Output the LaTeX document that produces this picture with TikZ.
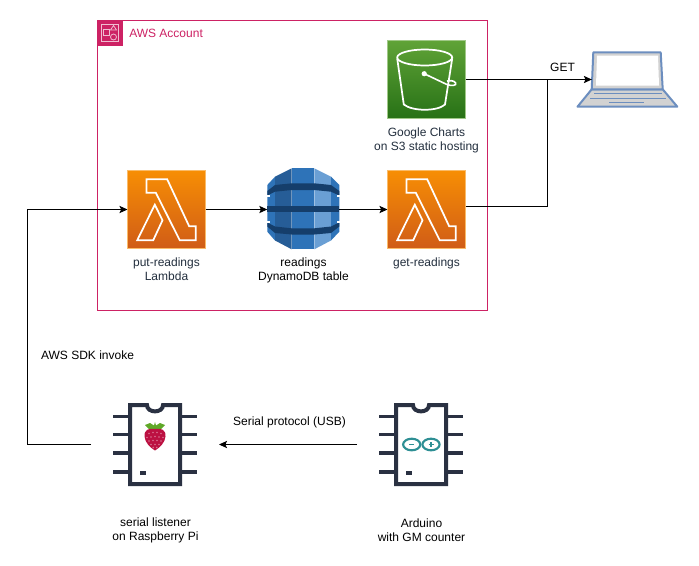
\documentclass[tikz,border=0pt]{standalone}
\usepackage{fontspec}
\setmainfont{Liberation Sans}
\usetikzlibrary{arrows.meta}
\definecolor{awspink}{HTML}{CD2264}
\definecolor{chipc}{HTML}{2A3142}
\definecolor{lapc}{HTML}{6C8EBF}
\definecolor{lablc}{HTML}{232F3E}
\definecolor{ddbmid}{HTML}{2E73B8}
\definecolor{ddbdark}{HTML}{265D97}
\definecolor{ddblight}{HTML}{6A9FD4}
\definecolor{ddbband}{HTML}{153E6B}
\definecolor{rasp}{HTML}{BC1142}
\definecolor{leaf}{HTML}{5FA828}
\definecolor{ardu}{HTML}{2E8F94}
\definecolor{s3top}{HTML}{60A337}
\definecolor{s3bot}{HTML}{277116}
\definecolor{lamtop}{HTML}{F78E04}
\definecolor{lambot}{HTML}{D05C17}
\tikzset{
  x=0.75pt,y=-0.75pt,
  conn/.style={draw=black,line width=0.75pt,-{Stealth[length=6pt,width=5.4pt,inset=1.2pt]}},
  plain/.style={draw=black,line width=0.75pt},
  lbl/.style={font=\fontsize{9}{10.5}\selectfont,text=black,align=center,inner sep=0pt},
  sublbl/.style={lbl,text=lablc},
  lambdabox/.style={minimum size=58.5pt,inner sep=0pt,outer sep=0pt,draw=lamtop!60!white,line width=0.4pt,top color=lamtop,bottom color=lambot},
  sthree/.style={minimum size=58.5pt,inner sep=0pt,outer sep=0pt,draw=s3top!60!white,line width=0.4pt,top color=s3top,bottom color=s3bot},
  glyph/.style={draw=white,line width=1.3pt,line join=miter},
  iconnode/.style={inner sep=0pt,outer sep=0pt},
  chipnode/.style={inner sep=0pt,outer sep=0pt,minimum width=96pt,minimum height=96pt},
  chipline/.style={draw=chipc,line width=3pt},
}
\newcommand{\lambdaglyph}[1]{%
  \begin{scope}[shift={(#1)}]
    \draw[glyph] (-20,-30.2) -- (0.7,-30.2) -- (22.7,16.8) -- (29.3,16.8) -- (29.3,30.8) -- (13.3,30.8) -- (-10.7,-16.8) -- (-20,-16.8) -- cycle;
    \draw[glyph] (-29.3,30.8) -- (-11.7,-4.8) -- (-4,10.8) -- (-13.3,30.8) -- cycle;
  \end{scope}}
\newcommand{\chipglyph}[1]{%
  \begin{scope}[shift={(#1)}]
    \foreach \yy in {-28,-10,8.7,27.3}{
      \draw[chipline,line width=2.8pt] (-42,\yy) -- (-25,\yy);
      \draw[chipline,line width=2.8pt] (25,\yy) -- (42,\yy);
    }
    \draw[chipline,fill=white] (-25,-39.5) -- (-8,-39.5) .. controls (-8,-31) and (8,-31) .. (8,-39.5) -- (25,-39.5) -- (25,39.5) -- (-25,39.5) -- cycle;
    \fill[chipc] (-15,26) rectangle (-9,30.5);
  \end{scope}}
\begin{document}
\begin{tikzpicture}
\useasboundingbox[fill=white] (0,0) rectangle (699,565);

% account group
\draw[awspink,line width=0.75pt] (97.5,20.5) rectangle (487.5,310.5);
\fill[awspink] (97,20) rectangle (123,46);
\draw[white!70!awspink,line width=0.6pt] (103.5,29.5) rectangle (109.5,35.5);
\draw[white!70!awspink,line width=0.6pt] (110.5,30) -- (113.5,25.5) -- (116.5,30) -- cycle;
\draw[white!70!awspink,line width=0.6pt] (113.5,37) circle[radius=3];
\draw[white!70!awspink,line width=0.6pt] (101.5,24.5) -- (101.5,41.5) -- (118.5,41.5) -- (118.5,24.5) -- cycle;
\node[lbl,text=awspink,anchor=west] (acct) at (129,33.5) {AWS Account};

% icon nodes
\node[lambdabox] (putL) at (166.5,209.5) {};
\node[lambdabox] (getL) at (426.5,209.5) {};
\node[sthree] (sthreeN) at (426.5,79.5) {};
\node[iconnode,minimum width=54pt,minimum height=60.75pt] (ddb) at (303.3,209.5) {};
\node[iconnode,minimum width=64pt,minimum height=42pt] (laptop) at (634.5,79.5) {};
\node[chipnode] (pi) at (155,444.5) {};
\node[chipnode] (ard) at (421,444.5) {};
\lambdaglyph{putL}
\lambdaglyph{getL}

% s3 bucket
\begin{scope}[shift={(sthreeN)}]
  \draw[glyph] (-29.3,-21) -- (-22.7,25) .. controls (-14,32) and (11,32) .. (18.5,25) -- (25.7,-21);
  \draw[glyph] (-1.8,-22) ellipse[x radius=27.5,y radius=8];
  \fill[white] (-2.3,-5.8) circle[radius=2.6];
  \draw[white,line width=1.2pt] (-2.3,-5.8) -- (20,4.8) .. controls (25,7) and (31,6) .. (29,3.2) .. controls (27,0.7) and (23,1) .. (20.5,1.5);
\end{scope}

% laptop
\begin{scope}
  \draw[lapc,line width=1.5pt,line join=round,fill=gray!35] (591.7,89.3) -- (577.5,106.7) -- (677.3,106.7) -- (662.7,89.3) -- cycle;
  \draw[lapc,line width=1.5pt,line join=round,fill=gray!35] (593.3,52.3) -- (660.7,52.3) -- (662.7,89.3) -- (591.7,89.3) -- cycle;
  \fill[white] (597,55.5) -- (658,55.5) -- (659,85.5) -- (596,85.5) -- cycle;
  \draw[lapc,line width=1.1pt] (594,93.3) -- (661.7,93.3);
  \draw[lapc,line width=1.1pt] (590,98.3) -- (666,98.3);
  \draw[lapc,line width=1.1pt] (609,102.7) -- (644,102.7);
\end{scope}

% dynamodb
\begin{scope}
  \fill[ddbmid]   (267.3,185) -- (275,176.7) -- (275,240.5) -- (267.3,231.7) -- cycle;
  \fill[ddbdark]  (275,176.7) -- (291.7,168.3) -- (291.7,249.3) -- (275,240.5) -- cycle;
  \fill[ddbmid]   (291.7,168.3) -- (314.3,168.3) -- (314.3,249.3) -- (291.7,249.3) -- cycle;
  \fill[ddblight] (314.3,168.3) -- (331,176.7) -- (331,240.5) -- (314.3,249.3) -- cycle;
  \fill[ddbmid]   (331,176.7) -- (339.3,185) -- (339.3,231.7) -- (331,240.5) -- cycle;
  \fill[ddbband] (267.3,191) -- (275,185) -- (291.7,183.3) -- (314.3,183.3) -- (331,185) -- (339.3,191) -- (339.3,195.5) -- (331,191.7) -- (314.3,190) -- (291.7,190) -- (275,191.7) -- (267.3,195.5) -- cycle;
  \fill[ddbband] (267.3,206) -- (339.3,206) -- (339.3,211.7) -- (267.3,211.7) -- cycle;
  \fill[ddbband] (267.3,222.5) -- (275,226.5) -- (291.7,228.3) -- (314.3,228.3) -- (331,226.5) -- (339.3,222.5) -- (339.3,226.5) -- (331,233) -- (314.3,234.5) -- (291.7,234.5) -- (275,233) -- (267.3,226.5) -- cycle;
  \fill[white] (267,194.5) rectangle (270,197);
  \fill[white] (337,194.5) rectangle (340,197);
  \fill[white] (267,220.5) rectangle (270,223);
  \fill[white] (337,220.5) rectangle (340,223);
\end{scope}

% chips
\chipglyph{pi}
\chipglyph{ard}

% raspberry
\begin{scope}[shift={(pi)}]
  \fill[leaf] (-10,-19.5) -- (-5,-21.5) -- (-1,-19) -- (0,-22.5) -- (1,-19) -- (5,-21.5) -- (10,-19.5) -- (5,-14.5) -- (-5,-14.5) -- cycle;
  \fill[rasp] (0,-15.5) .. controls (6,-16.5) and (11,-15) .. (10.5,-8) .. controls (10,-2) and (5,3) .. (0,6) .. controls (-5,3) and (-10,-2) .. (-10.5,-8) .. controls (-11,-15) and (-6,-16.5) .. (0,-15.5) -- cycle;
  \foreach \dx/\dy in {-6/-11,-2/-12,2/-12,6/-11,-8/-7,-4/-7.5,0/-8,4/-7.5,8/-7,-6/-3.5,-2/-4,2/-4,6/-3.5,-4/0,0/0,4/0,-1.8/3,1.8/3}{
    \fill[white!40!rasp] (\dx,\dy) circle[radius=0.9];
  }
\end{scope}

% arduino logo
\begin{scope}[shift={(ard)}]
  \draw[ardu,line width=1.6pt] (-9.3,0) ellipse[x radius=8.6,y radius=5.8];
  \draw[ardu,line width=1.6pt] (10,0) ellipse[x radius=8.6,y radius=5.8];
  \draw[ardu,line width=1.1pt] (-12,0) -- (-7.5,0);
  \draw[ardu,line width=1.1pt] (7.5,0) -- (12.5,0) (10,-2.5) -- (10,2.5);
\end{scope}

% connectors
\coordinate (getout) at (465.5,206.5);
\coordinate (merge) at (547.5,79.5);
\coordinate (leftbus) at (27.5,300);
\draw[conn] (sthreeN.east) -- (laptop.west);
\draw[plain] (getout) -| (merge);
\draw[conn] (putL.east) -- (ddb.west);
\draw[conn] (ddb.east) -- (getL.west);
\draw[conn] (pi.west) -| (leftbus) |- (putL.west);
\draw[conn] (ard.west) -- (pi.east);

% labels
\node[lbl] (lget) at (562.5,67) {GET};
\node[sublbl] (ls3) at (426.5,140) {Google Charts\\on S3 static hosting};
\node[sublbl] (lput) at (166.5,269.5) {put-readings\\Lambda};
\node[lbl] (lddb) at (303.5,270.5) {readings\\DynamoDB table};
\node[sublbl] (lgetr) at (426.5,263) {get-readings};
\node[lbl] (lsdk) at (87.5,355) {AWS SDK invoke};
\node[lbl] (lser) at (289.5,422) {Serial protocol (USB)};
\node[lbl] (lpi) at (155.5,530) {serial listener\\on Raspberry Pi};
\node[lbl] (lard) at (421.5,530) {Arduino\\with GM counter};
\end{tikzpicture}
\end{document}
